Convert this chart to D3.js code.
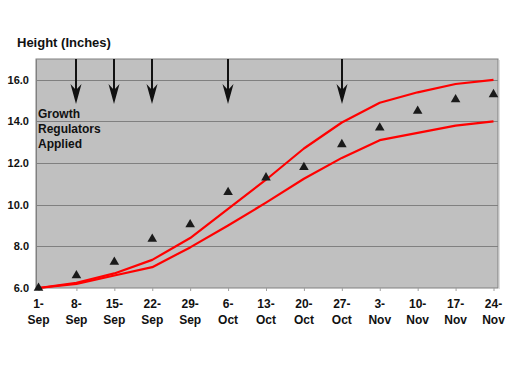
<!DOCTYPE html>
<html><head><meta charset="utf-8">
<script src="https://cdn.jsdelivr.net/npm/d3@7"></script>
<style>body{margin:0;background:#fff}svg{display:block;font-family:Arial,"Liberation Sans",sans-serif}</style>
</head><body>
<svg id="c" width="525" height="365"></svg>
<script>
const dates = ["1-Sep","8-Sep","15-Sep","22-Sep","29-Sep","6-Oct","13-Oct","20-Oct","27-Oct","3-Nov","10-Nov","17-Nov","24-Nov"];
const measured = [6.0,6.6,7.25,8.35,9.05,10.6,11.3,11.8,12.9,13.7,14.5,15.05,15.3];
const upperBound = [6.0,6.25,6.7,7.35,8.4,9.8,11.2,12.7,13.95,14.9,15.4,15.8,16.0];
const lowerBound = [6.0,6.2,6.6,7.0,7.95,9.0,10.1,11.25,12.25,13.1,13.45,13.8,14.0];
const applied = ["8-Sep","15-Sep","22-Sep","6-Oct","27-Oct"];
const yTicks = [6,8,10,12,14,16];

const svg = d3.select("#c");
const plot = {l:36, t:59, r:498, b:288};
const x = d3.scalePoint().domain(dates).range([38.5, 493.5]);
const y = d3.scaleLinear().domain([6,17]).range([plot.b, plot.t]);

svg.append("rect").attr("x",plot.l).attr("y",plot.t).attr("width",plot.r-plot.l).attr("height",plot.b-plot.t)
  .attr("fill","#c0c0c0").attr("stroke","#808080").attr("stroke-width",1);
svg.append("line").attr("x1",plot.r+1.5).attr("x2",plot.r+1.5).attr("y1",plot.t+1).attr("y2",plot.b+1).attr("stroke","#e0e0e0").attr("stroke-width",1);

// gridlines
svg.append("g").selectAll("line").data(yTicks.slice(1)).join("line")
  .attr("x1",plot.l).attr("x2",plot.r).attr("y1",d=>Math.round(y(d))+0.5).attr("y2",d=>Math.round(y(d))+0.5)
  .attr("stroke","#808080").attr("stroke-width",1);

// y axis
const ya = svg.append("g").attr("transform",`translate(${plot.l},0)`)
  .call(d3.axisLeft(y).tickValues(yTicks).tickFormat(d3.format(".1f")).tickSize(0).tickPadding(7));
ya.select(".domain").attr("stroke","#808080");
ya.selectAll("text").attr("font-size",11).attr("font-weight","bold").attr("fill","#111").attr("font-family","Arial, 'Liberation Sans', sans-serif");

// x axis
const xa = svg.append("g").attr("transform",`translate(0,${plot.b})`)
  .call(d3.axisBottom(x).tickSize(3).tickFormat(""));
xa.select(".domain").remove();
xa.selectAll("line").attr("stroke","#a0a0a0");
const xl = svg.append("g");
dates.forEach(d=>{
  const parts = d.split("-");
  const t = xl.append("text").attr("x",x(d)).attr("text-anchor","middle").attr("font-size",12).attr("font-weight","bold").attr("fill","#111");
  t.append("tspan").attr("x",x(d)).attr("y",308).text(parts[0]+"-");
  t.append("tspan").attr("x",x(d)).attr("y",324).text(parts[1]);
});

// lines
const line = d3.line().x((d,i)=>x(dates[i])).y(d=>y(d));
[upperBound, lowerBound].forEach(s=>{
  svg.append("path").datum(s).attr("d",line).attr("fill","none").attr("stroke","#ff0000").attr("stroke-width",2.2).attr("stroke-linejoin","round");
});

// triangles
svg.append("g").selectAll("path").data(measured).join("path")
  .attr("d",d3.symbol().type(d3.symbolTriangle).size(40))
  .attr("transform",(d,i)=>`translate(${x(dates[i])},${y(d)})`)
  .attr("fill","#1a1a1a");

// arrows
const ag = svg.append("g");
applied.forEach(d=>{
  const cx = Math.round(x(d));
  ag.append("line").attr("x1",cx).attr("x2",cx).attr("y1",plot.t).attr("y2",96).attr("stroke","#111").attr("stroke-width",2);
  ag.append("path").attr("d",`M${cx},104 L${cx-5.5},84 L${cx},90 L${cx+5.5},84 Z`).attr("fill","#111");
});

// annotation
const ann = svg.append("text").attr("font-size",12).attr("font-weight","bold").attr("fill","#111");
["Growth","Regulators","Applied"].forEach((s,i)=>ann.append("tspan").attr("x",38).attr("y",118+i*15).text(s));

// title
svg.append("text").attr("x",17).attr("y",47).attr("font-size",13).attr("font-weight","bold").attr("fill","#111").text("Height (Inches)");
</script>
</body></html>
